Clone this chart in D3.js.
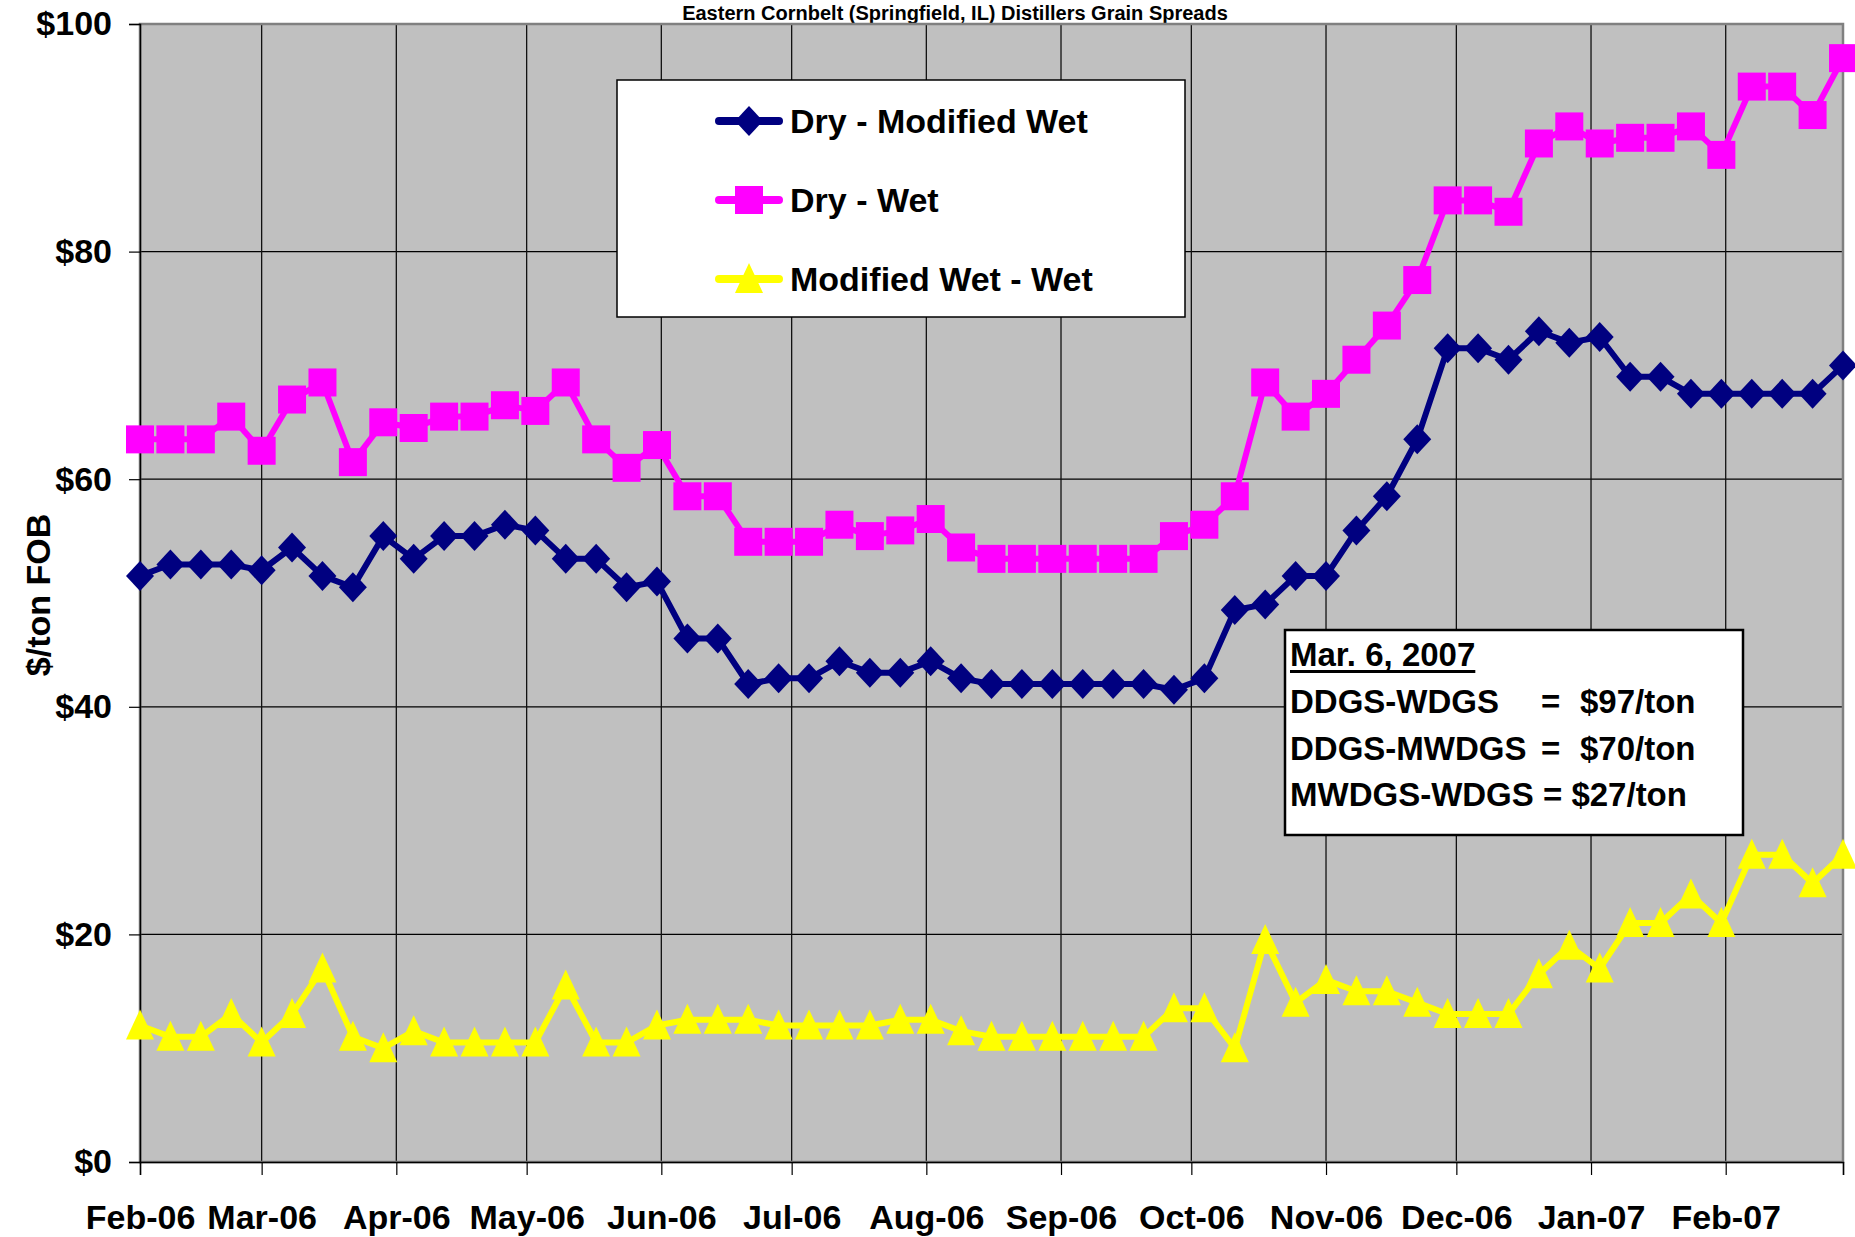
<!DOCTYPE html>
<html>
<head>
<meta charset="utf-8">
<script src="https://cdn.jsdelivr.net/npm/d3@7"></script>
<style>
  html, body { margin: 0; padding: 0; background: #fff; }
  svg { display: block; }
  text { font-family: "Liberation Sans", Arial, sans-serif; font-weight: bold; fill: #000; }
</style>
</head>
<body>
<div id="chart"></div>
<script>
// weekly price spreads, Feb 7 2006 - Mar 6 2007
const dates = [
  "2006-02-07", "2006-02-14", "2006-02-21", "2006-02-28",
  "2006-03-07", "2006-03-14", "2006-03-21", "2006-03-28",
  "2006-04-04", "2006-04-11", "2006-04-18", "2006-04-25",
  "2006-05-02", "2006-05-09", "2006-05-16", "2006-05-23", "2006-05-30",
  "2006-06-06", "2006-06-13", "2006-06-20", "2006-06-27",
  "2006-07-04", "2006-07-11", "2006-07-18", "2006-07-25",
  "2006-08-01", "2006-08-08", "2006-08-15", "2006-08-22", "2006-08-29",
  "2006-09-05", "2006-09-12", "2006-09-19", "2006-09-26",
  "2006-10-03", "2006-10-10", "2006-10-17", "2006-10-24", "2006-10-31",
  "2006-11-07", "2006-11-14", "2006-11-21", "2006-11-28",
  "2006-12-05", "2006-12-12", "2006-12-19", "2006-12-26",
  "2007-01-02", "2007-01-09", "2007-01-16", "2007-01-23", "2007-01-30",
  "2007-02-06", "2007-02-13", "2007-02-20", "2007-02-27",
  "2007-03-06"
];

const dryModWet = [
  51.5, 52.5, 52.5, 52.5, 52, 54, 51.5, 50.5,
  55, 53, 55, 55, 56, 55.5, 53, 53, 50.5,
  51, 46, 46, 42, 42.5, 42.5, 44, 43,
  43, 44, 42.5, 42, 42, 42, 42, 42, 42,
  41.5, 42.5, 48.5, 49, 51.5, 51.5, 55.5, 58.5, 63.5,
  71.5, 71.5, 70.5, 73, 72, 72.5, 69, 69, 67.5,
  67.5, 67.5, 67.5, 67.5, 70
];

const dryWet = [
  63.5, 63.5, 63.5, 65.5, 62.5, 67, 68.5, 61.5,
  65, 64.5, 65.5, 65.5, 66.5, 66, 68.5, 63.5, 61,
  63, 58.5, 58.5, 54.5, 54.5, 54.5, 56, 55,
  55.5, 56.5, 54, 53, 53, 53, 53, 53, 53,
  55, 56, 58.5, 68.5, 65.5, 67.5, 70.5, 73.5, 77.5,
  84.5, 84.5, 83.5, 89.5, 91, 89.5, 90, 90, 91,
  88.5, 94.5, 94.5, 92, 97
];

const modWetWet = [
  12, 11, 11, 13, 10.5, 13, 17, 11,
  10, 11.5, 10.5, 10.5, 10.5, 10.5, 15.5, 10.5, 10.5,
  12, 12.5, 12.5, 12.5, 12, 12, 12, 12,
  12.5, 12.5, 11.5, 11, 11, 11, 11, 11, 11,
  13.5, 13.5, 10, 19.5, 14, 16, 15, 15, 14,
  13, 13, 13, 16.5, 19, 17, 21, 21, 23.5,
  21, 27, 27, 24.5, 27
];

const yTicks = [0, 20, 40, 60, 80, 100];
const monthTicks = [
  "2006-02-07", "2006-03-07", "2006-04-07", "2006-05-07", "2006-06-07",
  "2006-07-07", "2006-08-07", "2006-09-07", "2006-10-07", "2006-11-07",
  "2006-12-07", "2007-01-07", "2007-02-07"
];

const seriesNames = ["Dry - Modified Wet", "Dry - Wet", "Modified Wet - Wet"];
const seriesColors = ["#000080", "#FF00FF", "#FFFF00"];
const seriesShapes = ["diamond", "square", "triangle"];

const annotationTitle = "Mar. 6, 2007";
const annotationRows = [
  ["DDGS-WDGS", "=", "$97/ton"],
  ["DDGS-MWDGS", "=", "$70/ton"],
  ["MWDGS-WDGS = $27/ton"]
];

const width = 1855, height = 1237;
const plot = { left: 140, right: 1843, top: 24, bottom: 1162 };

const parse = d3.timeParse("%Y-%m-%d");
const fmt = d3.timeFormat("%b-%y");

const svg = d3.select("#chart").append("svg")
  .attr("width", width)
  .attr("height", height);

const x = d3.scaleTime()
  .domain([parse(dates[0]), parse(dates[dates.length - 1])])
  .range([plot.left, plot.right]);

const y = d3.scaleLinear()
  .domain([0, 100])
  .range([plot.bottom, plot.top]);

// title squeezed into the strip above the plot
svg.append("text")
  .attr("x", 955)
  .attr("y", 20)
  .attr("text-anchor", "middle")
  .style("font-size", "20px")
  .text("Eastern Cornbelt (Springfield, IL) Distillers Grain Spreads");

// plot background
svg.append("rect")
  .attr("x", plot.left)
  .attr("y", plot.top)
  .attr("width", plot.right - plot.left)
  .attr("height", plot.bottom - plot.top)
  .attr("fill", "#C0C0C0");

// gridlines
svg.append("g")
  .selectAll("line")
  .data(yTicks.filter(d => d > 0 && d < 100))
  .join("line")
  .attr("x1", plot.left)
  .attr("x2", plot.right)
  .attr("y1", d => y(d))
  .attr("y2", d => y(d))
  .attr("stroke", "#000")
  .attr("stroke-width", 1.2);

svg.append("g")
  .selectAll("line")
  .data(monthTicks.slice(1))
  .join("line")
  .attr("x1", d => x(parse(d)))
  .attr("x2", d => x(parse(d)))
  .attr("y1", plot.top)
  .attr("y2", plot.bottom)
  .attr("stroke", "#111")
  .attr("stroke-width", 1.3);

// plot border
svg.append("rect")
  .attr("x", plot.left)
  .attr("y", plot.top)
  .attr("width", plot.right - plot.left)
  .attr("height", plot.bottom - plot.top)
  .attr("fill", "none")
  .attr("stroke", "#808080")
  .attr("stroke-width", 2.5);

// axes
const yAxis = svg.append("g")
  .attr("transform", `translate(${plot.left},0)`)
  .call(d3.axisLeft(y)
    .tickValues(yTicks)
    .tickFormat(d => "$" + d)
    .tickSize(11)
    .tickPadding(17));

const xAxis = svg.append("g")
  .attr("transform", `translate(0,${plot.bottom})`)
  .call(d3.axisBottom(x)
    .tickValues(monthTicks.map(parse).concat([x.domain()[1]]))
    .tickFormat((d, i) => i < monthTicks.length ? fmt(d) : "")
    .tickSize(13)
    .tickPadding(30));

[yAxis, xAxis].forEach(ax => {
  ax.select(".domain").attr("stroke", "#000").attr("stroke-width", 1.5);
  ax.selectAll(".tick line").attr("stroke", "#000").attr("stroke-width", 1.2);
  ax.selectAll("text")
    .attr("fill", "#000")
    .style("font-family", '"Liberation Sans", Arial, sans-serif')
    .style("font-weight", "bold")
    .style("font-size", "34px");
});

// y axis title
svg.append("text")
  .attr("transform", "translate(38,595) rotate(-90)")
  .attr("text-anchor", "middle")
  .attr("dy", "0.35em")
  .style("font-size", "34px")
  .text("$/ton FOB");

// marker shapes
function markerPath(shape) {
  if (shape === "diamond") return "M0,-15L14,0L0,15L-14,0Z";
  if (shape === "square") return "M-14,-14H14V14H-14Z";
  return "M0,-16L14,14H-14Z";
}

const series = [dryModWet, dryWet, modWetWet];

const line = d3.line()
  .x((d, i) => x(parse(dates[i])))
  .y(d => y(d));

series.forEach((vals, si) => {
  const g = svg.append("g");
  g.append("path")
    .datum(vals)
    .attr("d", line)
    .attr("fill", "none")
    .attr("stroke", seriesColors[si])
    .attr("stroke-width", 6)
    .attr("stroke-linejoin", "round");

  g.selectAll("path.marker")
    .data(vals)
    .join("path")
    .attr("class", "marker")
    .attr("transform", (d, i) => `translate(${x(parse(dates[i]))},${y(d)})`)
    .attr("d", markerPath(seriesShapes[si]))
    .attr("fill", seriesColors[si]);
});

// legend
const legend = svg.append("g");
legend.append("rect")
  .attr("x", 617)
  .attr("y", 80)
  .attr("width", 568)
  .attr("height", 237)
  .attr("fill", "#fff")
  .attr("stroke", "#000")
  .attr("stroke-width", 1.5);

seriesNames.forEach((name, i) => {
  const cy = 121 + i * 79;
  legend.append("line")
    .attr("x1", 719).attr("x2", 779)
    .attr("y1", cy).attr("y2", cy)
    .attr("stroke", seriesColors[i])
    .attr("stroke-width", 8)
    .attr("stroke-linecap", "round");
  legend.append("path")
    .attr("transform", `translate(749,${cy})`)
    .attr("d", markerPath(seriesShapes[i]))
    .attr("fill", seriesColors[i]);
  legend.append("text")
    .attr("x", 790)
    .attr("y", cy)
    .attr("dy", "0.36em")
    .style("font-size", "34px")
    .text(name);
});

// annotation box
const note = svg.append("g");
note.append("rect")
  .attr("x", 1285)
  .attr("y", 630)
  .attr("width", 458)
  .attr("height", 205)
  .attr("fill", "#fff")
  .attr("stroke", "#000")
  .attr("stroke-width", 2.5);

const titleText = note.append("text")
  .attr("x", 1290)
  .attr("y", 666)
  .style("font-size", "33px")
  .text(annotationTitle);
const tw = titleText.node().getComputedTextLength();
note.append("rect")
  .attr("x", 1290)
  .attr("y", 670)
  .attr("width", tw)
  .attr("height", 3)
  .attr("fill", "#000");

const colX = [1290, 1541, 1580];
annotationRows.forEach((row, i) => {
  const by = 713 + i * 46.5;
  row.forEach((part, j) => {
    note.append("text")
      .attr("x", colX[j])
      .attr("y", by)
      .style("font-size", "33px")
      .text(part);
  });
});
</script>
</body>
</html>
